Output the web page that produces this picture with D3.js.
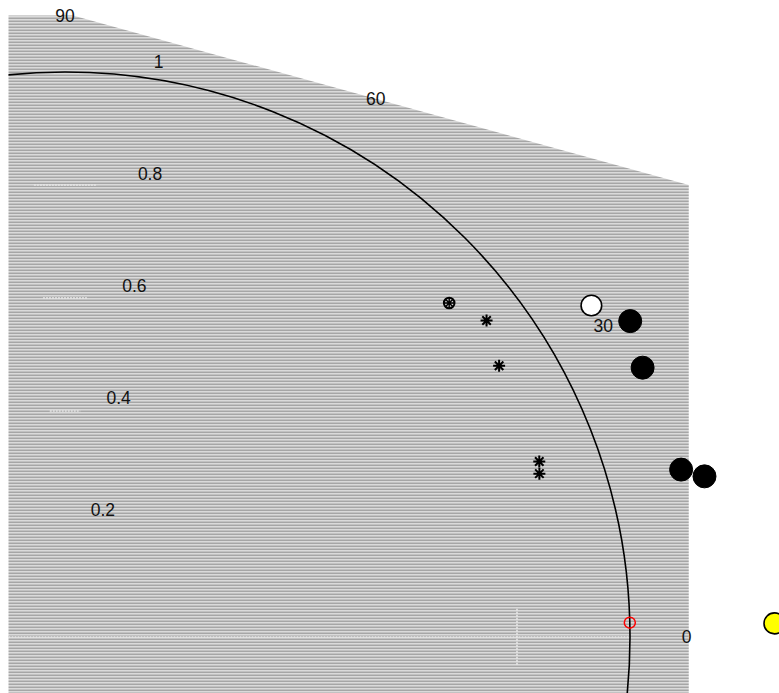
<!DOCTYPE html>
<html><head><meta charset="utf-8">
<script src="https://cdn.jsdelivr.net/npm/d3@7"></script>
<style>body{margin:0;background:#fff}svg{display:block}text{font-family:"Liberation Sans",Arial,sans-serif;font-size:17.5px;fill:#111}</style>
</head><body>
<script>
// ---- data ----
const angleTicks = [0, 30, 60, 90];
const stdTicks = [0.2, 0.4, 0.6, 0.8, 1];
const stdLabels = ["0.2", "0.4", "0.6", "0.8", "1"];
const modelStd = [1.146, 1.128, 1.130, 1.167];
const modelAngle = [29.2, 25.0, 15.2, 14.1];
const openStd = [1.101];
const openAngle = [32.2];
const starStd = [0.933, 0.906, 0.895, 0.888];
const starAngle = [36.9, 32.0, 20.3, 19.0];
const circledStarStd = [0.901];
const circledStarAngle = [41.0];
const yellowStd = [1.256];
const yellowAngle = [1.1];
const refStd = [1.0];
const refAngle = [1.45];
const hTickStd = [0.4, 0.6, 0.8];
const hTickHalf = [0.027, 0.039, 0.055];
const vTickStd = [0.8];
const vTickHalf = [0.05];
const bgPoly = [[-0.1, 1.1], [0.014, 1.1], [1.104, 0.8], [1.104, -0.1], [-0.1, -0.1]];

const W = 779, H = 693;
const x = d3.scaleLinear().domain([0, 1]).range([65, 630]);
const y = d3.scaleLinear().domain([0, 1]).range([637, 72]);
const R = x(1) - x(0);
const rad = d => d * Math.PI / 180;
const px = (s, a) => x(s * Math.cos(rad(a)));
const py = (s, a) => y(s * Math.sin(rad(a)));

const svg = d3.select("body").append("svg").attr("width", W).attr("height", H);
const defs = svg.append("defs");
const pat = defs.append("pattern").attr("id", "stripes").attr("patternUnits", "userSpaceOnUse")
  .attr("width", 6).attr("height", 3);
pat.append("rect").attr("width", 6).attr("height", 1).attr("y", 0).attr("fill", "#a6a6a6");
pat.append("rect").attr("width", 6).attr("height", 1).attr("y", 1).attr("fill", "#dadada");
pat.append("rect").attr("width", 6).attr("height", 1).attr("y", 2).attr("fill", "#c2c2c2");

const polyPath = d3.line().x(d => x(d[0])).y(d => y(d[1])).curve(d3.curveLinearClosed)(bgPoly);
defs.append("clipPath").attr("id", "clipPoly").append("path").attr("d", polyPath);

// background polygon
svg.append("path").attr("d", polyPath).attr("fill", "url(#stripes)");

// dotted axis & ticks
const dot = g => g.attr("stroke", "#e6e6e6").attr("stroke-width", 1.6).attr("stroke-dasharray", "2,1").attr("fill", "none");
svg.append("line").attr("x1", x(-0.1)).attr("x2", x(1)).attr("y1", y(0)).attr("y2", y(0)).call(dot);
hTickStd.forEach((s, i) => svg.append("line")
  .attr("x1", x(-hTickHalf[i])).attr("x2", x(hTickHalf[i])).attr("y1", y(s)).attr("y2", y(s)).call(dot));
vTickStd.forEach((s, i) => svg.append("line")
  .attr("x1", x(s)).attr("x2", x(s)).attr("y1", y(vTickHalf[i])).attr("y2", y(-vTickHalf[i])).call(dot));

// std = 1 arc
svg.append("circle").attr("cx", x(0)).attr("cy", y(0)).attr("r", R)
  .attr("clip-path", "url(#clipPoly)")
  .attr("fill", "none").attr("stroke", "#000").attr("stroke-width", 1.6);

// angle labels
svg.selectAll("text.ang").data(angleTicks).enter().append("text")
  .attr("x", d => px(1.1, d)).attr("y", d => py(1.1, d))
  .attr("text-anchor", "middle").attr("dominant-baseline", "central").text(d => d);

// std labels
svg.selectAll("text.std").data(stdTicks).enter().append("text")
  .attr("x", d => px(d, 82) + 10).attr("y", d => py(d, 82) - 15.5)
  .attr("text-anchor", "start").attr("dominant-baseline", "central").text((d, i) => stdLabels[i]);

// asterisk path
function star(size) {
  const p = d3.path();
  for (let k = 0; k < 4; k++) {
    const a = k * Math.PI / 4;
    p.moveTo(-size * Math.cos(a), -size * Math.sin(a));
    p.lineTo(size * Math.cos(a), size * Math.sin(a));
  }
  return p.toString();
}

// stars
starStd.forEach((s, i) => svg.append("path").attr("d", star(6))
  .attr("transform", `translate(${px(s, starAngle[i])},${py(s, starAngle[i])})`)
  .attr("stroke", "#000").attr("stroke-width", 2).attr("fill", "none"));
circledStarStd.forEach((s, i) => {
  const g = svg.append("g").attr("transform", `translate(${px(s, circledStarAngle[i])},${py(s, circledStarAngle[i])})`);
  g.append("circle").attr("r", 5.3).attr("fill", "none").attr("stroke", "#000").attr("stroke-width", 2);
  g.append("path").attr("d", star(5)).attr("stroke", "#000").attr("stroke-width", 1.4);
});

// model circles
modelStd.forEach((s, i) => svg.append("circle")
  .attr("cx", px(s, modelAngle[i])).attr("cy", py(s, modelAngle[i])).attr("r", 11.5)
  .attr("fill", "#000").attr("stroke", "#000"));
openStd.forEach((s, i) => svg.append("circle")
  .attr("cx", px(s, openAngle[i])).attr("cy", py(s, openAngle[i])).attr("r", 10.3)
  .attr("fill", "#fff").attr("stroke", "#000").attr("stroke-width", 1.6));
yellowStd.forEach((s, i) => svg.append("circle")
  .attr("cx", px(s, yellowAngle[i])).attr("cy", py(s, yellowAngle[i])).attr("r", 10.5)
  .attr("fill", "#ffff00").attr("stroke", "#000").attr("stroke-width", 1.6));
refStd.forEach((s, i) => svg.append("circle")
  .attr("cx", px(s, refAngle[i])).attr("cy", py(s, refAngle[i])).attr("r", 5.5)
  .attr("fill", "none").attr("stroke", "#ff0000").attr("stroke-width", 1.5));
</script>
</body></html>
